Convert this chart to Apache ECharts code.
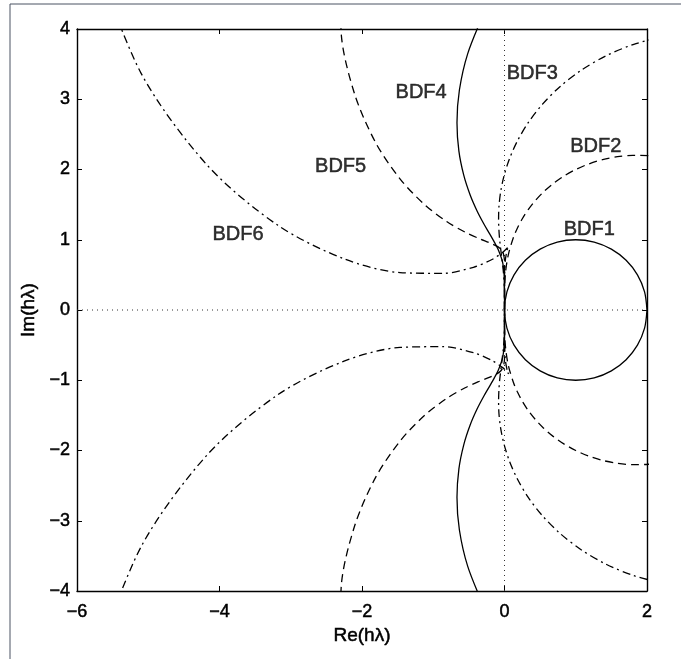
<!DOCTYPE html>
<html>
<head>
<meta charset="utf-8">
<script src="https://cdn.jsdelivr.net/npm/echarts@6/dist/echarts.min.js"></script>
<style>
  html, body { margin: 0; padding: 0; background: #fff; }
  #chart { width: 681px; height: 659px; }
</style>
</head>
<body>
<div id="chart"></div>
<script>
// Boundary points (upper half, Im >= 0), [Re, Im]
const bdf1 = [[0,0],[0.034,0.259],[0.134,0.5],[0.293,0.707],[0.5,0.866],[0.741,0.966],[1,1],[1.259,0.966],[1.5,0.866],[1.707,0.707],[1.866,0.5],[1.966,0.259],[2,0]];
const bdf2 = [[0,0],[0,0.176],[0.004,0.363],[0.018,0.567],[0.055,0.793],[0.128,1.040],[0.182,1.168],[0.25,1.299],[0.333,1.430],[0.433,1.558],[0.549,1.682],[0.683,1.799],[0.833,1.906],[1,2],[1.182,2.079],[1.377,2.141],[1.585,2.182],[1.801,2.201],[2.024,2.196],[2.25,2.165]];
const bdf3 = [[0,0],[0,0.175],[-0.003,0.351],[-0.015,0.534],[-0.038,0.740],[-0.067,0.988],[-0.078,1.134],[-0.083,1.299],[-0.077,1.484],[-0.053,1.688],[-0.006,1.912],[0.070,2.153],[0.181,2.406],[0.333,2.667],[0.531,2.927],[0.778,3.179],[1.075,3.412],[1.422,3.617],[1.815,3.782],[2.25,3.897]];
const bdf4 = [[0,0],[0,0.175],[-0.001,0.348],[-0.006,0.519],[-0.028,0.686],[-0.089,0.862],[-0.141,0.963],[-0.208,1.083],[-0.291,1.228],[-0.385,1.410],[-0.482,1.637],[-0.572,1.919],[-0.640,2.261],[-0.667,2.667],[-0.633,3.132],[-0.516,3.650],[-0.297,4.204]];
const bdf5 = [[0,0],[0,0.175],[0,0.349],[0.001,0.521],[0.001,0.681],[-0.018,0.812],[-0.050,0.864],[-0.108,0.909],[-0.205,0.955],[-0.350,1.014],[-0.552,1.107],[-0.812,1.259],[-1.124,1.502],[-1.467,1.867],[-1.809,2.383],[-2.103,3.072],[-2.292,3.942],[-2.310,4.980]];
const bdf6 = [[0,0],[0,0.175],[0,0.349],[0.001,0.524],[0.010,0.696],[0.034,0.843],[0.050,0.891],[0.058,0.909],[0.043,0.888],[-0.021,0.824],[-0.168,0.723],[-0.436,0.608],[-0.861,0.522],[-1.467,0.533],[-2.252,0.728],[-3.181,1.206],[-4.172,2.061],[-5.100,3.369],[-5.799,5.160]];

// dotted zero lines
const zeroV = [[0,-4],[0,4]];
const zeroH = [[-6,0],[2,0]];

// curve labels [text, Re, Im]
const curveLabels = [
    ['BDF1', 1.19, 1.14],
    ['BDF2', 1.28, 2.33],
    ['BDF3', 0.39, 3.37],
    ['BDF4', -1.17, 3.09],
    ['BDF5', -2.30, 2.04],
    ['BDF6', -3.74, 1.07]
];

const xTicks = { min: -6, max: 2, interval: 2 };
const yTicks = { min: -4, max: 4, interval: 1 };

// curves are symmetric about the real axis: lower half is the mirror of the upper
function fullCurve(upper) {
    const lower = upper.slice().reverse().map(p => [p[0], -p[1]]);
    return lower.concat(upper);
}

const chart = echarts.init(document.getElementById('chart'));

const FONT = '"Liberation Sans", Arial, Helvetica, sans-serif';
const dashed = [8, 5];
const dashDot = [8, 4, 2, 4];
// scanned print looks heavier than plain text
const heavy = { color: '#000', textBorderColor: '#000', textBorderWidth: 0.5 };

function curve(name, pts, type) {
    return {
        name: name,
        type: 'line',
        data: fullCurve(pts),
        showSymbol: false,
        symbol: 'none',
        smooth: 0.3,
        clip: true,
        animation: false,
        lineStyle: { color: '#000', width: 1.3, type: type }
    };
}

function zeroLine(pts) {
    return {
        type: 'line',
        data: pts,
        symbol: 'none',
        silent: true,
        animation: false,
        lineStyle: { color: '#333', width: 1, type: [1, 4] }
    };
}

const minusFmt = v => String(v).replace('-', '\u2212');

const axisCommon = {
    type: 'value',
    splitLine: { show: false },
    axisLine: { show: true, onZero: false, lineStyle: { color: '#000', width: 1.4 } },
    axisTick: { show: true, inside: true, length: 5, lineStyle: { color: '#000' } }
};

const option = {
    backgroundColor: '#fff',
    animation: false,
    grid: { left: 77, right: 34, top: 29, bottom: 68 },
    graphic: [{
        type: 'rect',
        shape: { x: 10, y: 4, width: 720, height: 720 },
        style: { fill: 'none', stroke: '#4b5262', lineWidth: 1 },
        silent: true
    }],
    xAxis: [
        Object.assign({}, axisCommon, xTicks, {
            position: 'bottom',
            name: 'Re(h\u03bb)',
            nameLocation: 'middle',
            nameGap: 33,
            nameTextStyle: Object.assign({ fontFamily: FONT, fontSize: 19 }, heavy),
            axisLabel: Object.assign({ margin: 12, fontFamily: FONT, fontSize: 18, formatter: minusFmt }, heavy)
        }),
        Object.assign({}, axisCommon, xTicks, {
            position: 'top',
            axisLabel: { show: false }
        })
    ],
    yAxis: [
        Object.assign({}, axisCommon, yTicks, {
            position: 'left',
            name: 'Im(h\u03bb)',
            nameLocation: 'middle',
            nameGap: 38,
            nameTextStyle: Object.assign({ fontFamily: FONT, fontSize: 19 }, heavy),
            axisLabel: Object.assign({ margin: 7, fontFamily: FONT, fontSize: 18, formatter: minusFmt }, heavy)
        }),
        Object.assign({}, axisCommon, yTicks, {
            position: 'right',
            axisLabel: { show: false }
        })
    ],
    series: [
        zeroLine(zeroV),
        zeroLine(zeroH),
        curve('BDF1', bdf1, 'solid'),
        curve('BDF2', bdf2, dashed),
        curve('BDF3', bdf3, dashDot),
        curve('BDF4', bdf4, 'solid'),
        curve('BDF5', bdf5, dashed),
        curve('BDF6', bdf6, dashDot),
        {
            type: 'scatter',
            data: curveLabels.map(d => ({ name: d[0], value: [d[1], d[2]] })),
            symbolSize: 1,
            itemStyle: { color: 'rgba(0,0,0,0)' },
            silent: true,
            label: Object.assign({
                show: true,
                position: 'inside',
                formatter: p => p.name,
                fontFamily: FONT,
                fontSize: 20
            }, heavy)
        }
    ]
};

chart.setOption(option);
</script>
</body>
</html>
